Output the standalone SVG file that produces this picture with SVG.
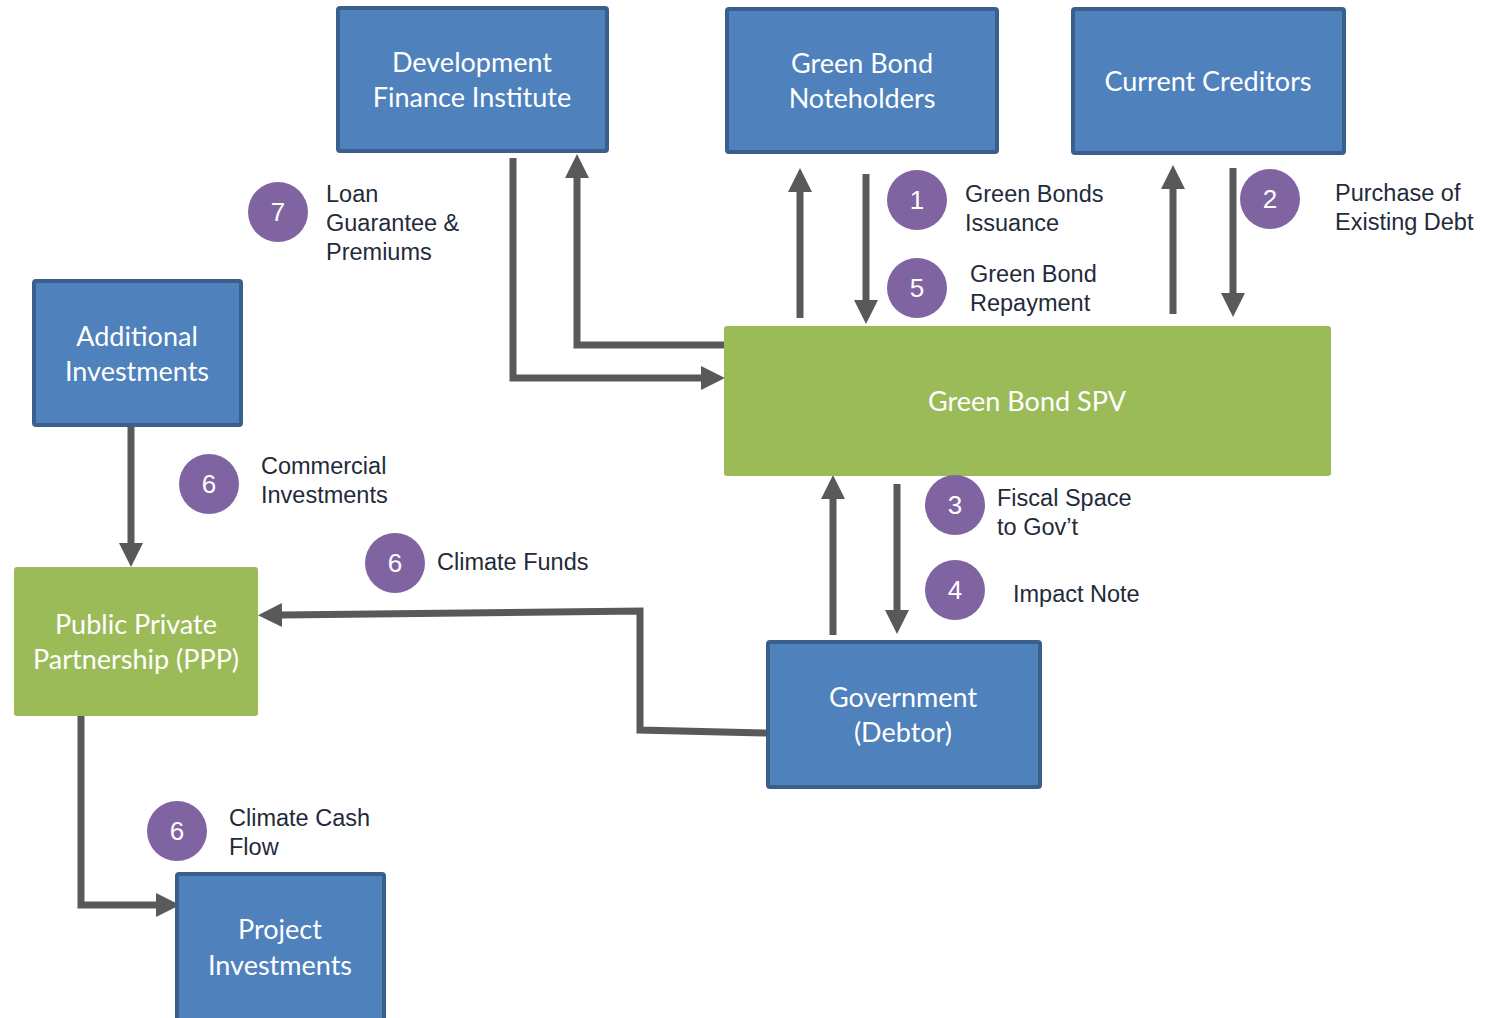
<svg xmlns="http://www.w3.org/2000/svg" width="1493" height="1018" viewBox="0 0 1493 1018">
<style>
.blue{fill:#4F81BD;stroke:#3B5F8C;stroke-width:4}
.green{fill:#9BBB59}
.nt{font-family:Lato,"Open Sans",sans-serif;font-size:27px;fill:#ffffff;text-anchor:middle}
.lbl{font-family:"Liberation Sans",Arial,sans-serif;font-size:23.5px;fill:#1F2B3A}
.bub{fill:#8064A2}
.num{font-family:"Liberation Sans",Arial,sans-serif;font-size:26px;fill:#ffffff;text-anchor:middle}
.c{fill:none;stroke:#595959;stroke-width:7;stroke-linejoin:miter}
</style>
<defs>
<marker id="ah" viewBox="0 0 24 24" refX="1" refY="12" markerWidth="24" markerHeight="24" orient="auto" markerUnits="userSpaceOnUse">
<path d="M0,0 L24,12 L0,24 Z" fill="#595959"/>
</marker>
</defs>
<rect width="1493" height="1018" fill="#ffffff"/>
<g id="connectors">
<path class="c" d="M513,158 V378 H702" marker-end="url(#ah)"/>
<path class="c" d="M727,345 H577 V177" marker-end="url(#ah)"/>
<path class="c" d="M800,318 V191" marker-end="url(#ah)"/>
<path class="c" d="M866,174 V301" marker-end="url(#ah)"/>
<path class="c" d="M1173,314 V188" marker-end="url(#ah)"/>
<path class="c" d="M1233,168 V294" marker-end="url(#ah)"/>
<path class="c" d="M833,635 V498" marker-end="url(#ah)"/>
<path class="c" d="M897,484 V611" marker-end="url(#ah)"/>
<path class="c" d="M767,733 L640,730 V611 L281,615" marker-end="url(#ah)"/>
<path class="c" d="M131,427 V544" marker-end="url(#ah)"/>
<path class="c" d="M81,715 V905 H157" marker-end="url(#ah)"/>
</g>
<g id="dfi">
<rect class="blue" x="338" y="8" width="269" height="143" rx="2"/>
<text class="nt" x="472" y="72">Development</text>
<text class="nt" x="472" y="107">Finance Institute</text>
</g>
<g id="noteholders">
<rect class="blue" x="727" y="9" width="270" height="143" rx="2"/>
<text class="nt" x="862" y="73">Green Bond</text>
<text class="nt" x="862" y="108">Noteholders</text>
</g>
<g id="creditors">
<rect class="blue" x="1073" y="9" width="271" height="144" rx="2"/>
<text class="nt" x="1208" y="91">Current Creditors</text>
</g>
<g id="additional">
<rect class="blue" x="34" y="281" width="207" height="144" rx="2"/>
<text class="nt" x="137" y="346">Additional</text>
<text class="nt" x="137" y="381">Investments</text>
</g>
<g id="spv">
<rect class="green" x="724" y="326" width="607" height="150" rx="3"/>
<text class="nt" x="1027" y="411">Green Bond SPV</text>
</g>
<g id="ppp">
<rect class="green" x="14" y="567" width="244" height="149" rx="3"/>
<text class="nt" x="136" y="634">Public Private</text>
<text class="nt" x="136" y="669">Partnership (PPP)</text>
</g>
<g id="government">
<rect class="blue" x="768" y="642" width="272" height="145" rx="2"/>
<text class="nt" x="903" y="707">Government</text>
<text class="nt" x="903" y="742">(Debtor)</text>
</g>
<g id="project">
<rect class="blue" x="177" y="874" width="207" height="150" rx="2"/>
<text class="nt" x="280" y="939">Project</text>
<text class="nt" x="280" y="975">Investments</text>
</g>
<g id="label7">
<circle class="bub" cx="278" cy="212" r="30"/>
<text class="num" x="278" y="221">7</text>
<text class="lbl" x="326" y="202">Loan</text>
<text class="lbl" x="326" y="231">Guarantee &amp;</text>
<text class="lbl" x="326" y="260">Premiums</text>
</g>
<g id="label1">
<circle class="bub" cx="917" cy="200" r="30"/>
<text class="num" x="917" y="209">1</text>
<text class="lbl" x="965" y="202">Green Bonds</text>
<text class="lbl" x="965" y="231">Issuance</text>
</g>
<g id="label5">
<circle class="bub" cx="917" cy="288" r="30"/>
<text class="num" x="917" y="297">5</text>
<text class="lbl" x="970" y="282">Green Bond</text>
<text class="lbl" x="970" y="311">Repayment</text>
</g>
<g id="label2">
<circle class="bub" cx="1270" cy="199" r="30"/>
<text class="num" x="1270" y="208">2</text>
<text class="lbl" x="1335" y="201">Purchase of</text>
<text class="lbl" x="1335" y="230">Existing Debt</text>
</g>
<g id="label6a">
<circle class="bub" cx="209" cy="484" r="30"/>
<text class="num" x="209" y="493">6</text>
<text class="lbl" x="261" y="474">Commercial</text>
<text class="lbl" x="261" y="503">Investments</text>
</g>
<g id="label6b">
<circle class="bub" cx="395" cy="563" r="30"/>
<text class="num" x="395" y="572">6</text>
<text class="lbl" x="437" y="570">Climate Funds</text>
</g>
<g id="label3">
<circle class="bub" cx="955" cy="505" r="30"/>
<text class="num" x="955" y="514">3</text>
<text class="lbl" x="997" y="506">Fiscal Space</text>
<text class="lbl" x="997" y="535">to Gov’t</text>
</g>
<g id="label4">
<circle class="bub" cx="955" cy="590" r="30"/>
<text class="num" x="955" y="599">4</text>
<text class="lbl" x="1013" y="602">Impact Note</text>
</g>
<g id="label6c">
<circle class="bub" cx="177" cy="831" r="30"/>
<text class="num" x="177" y="831" dy="9">6</text>
<text class="lbl" x="229" y="826">Climate Cash</text>
<text class="lbl" x="229" y="855">Flow</text>
</g>
</svg>
